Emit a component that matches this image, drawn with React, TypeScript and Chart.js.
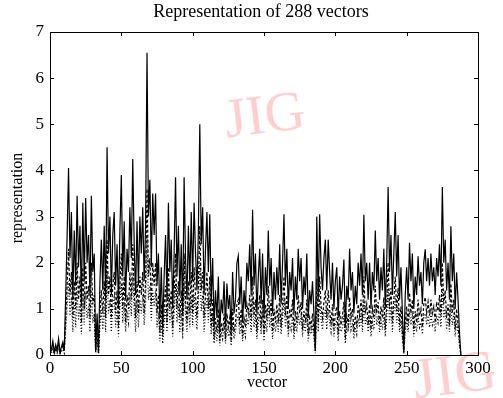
import React, { useEffect, useRef } from "react";
import { Chart, registerables } from "chart.js";
Chart.register(...registerables);

const chartTitle = "Representation of 288 vectors";
const xLabel = "vector";
const yLabel = "representation";
const xTicks = [0, 50, 100, 150, 200, 250, 300];
const yTicks = [0, 1, 2, 3, 4, 5, 6, 7];

// vectors 1..288
const solid = [
  0.12, 0.3, 0.05, 0.22, 0.1, 0.35, 0.05, 0.18, 0.28, 0.1, 1.3, 2.6,
  4.05, 2.1, 3.1, 1.2, 2.7, 1.5, 3.45, 1.9, 2.8, 1.1, 3.3, 1.6,
  3.4, 2.0, 2.6, 1.3, 3.45, 1.8, 2.2, 0.1, 0.9, 0.05, 1.6, 2.5,
  1.4, 2.8, 1.2, 4.5, 2.2, 3.0, 1.3, 2.6, 3.1, 1.5, 2.4, 1.0,
  2.7, 3.9, 1.7, 2.9, 1.2, 2.3, 1.8, 3.2, 2.1, 4.25, 2.4, 1.3,
  2.9, 1.5, 3.0, 2.2, 3.2, 1.6, 2.8, 6.55, 3.0, 3.8, 1.9, 3.5,
  2.6, 3.5, 1.5, 2.2, 0.8, 1.9, 0.6, 1.7, 2.6, 1.2, 3.3, 1.8,
  2.5, 1.0, 2.2, 3.85, 1.7, 2.8, 1.3, 2.4, 0.9, 3.85, 2.1, 1.2,
  2.8, 1.5, 3.1, 1.6, 3.3, 2.2, 1.4, 2.7, 5.0, 2.4, 3.2, 1.3,
  2.3, 3.1, 1.8, 3.05, 1.1, 2.1, 0.6, 1.4, 0.8, 1.7, 0.5, 1.2,
  0.9, 1.6, 0.6, 1.55, 1.0, 1.3, 0.5, 1.8, 0.9, 1.2, 2.0, 2.15,
  1.1, 1.7, 0.7, 1.4, 1.0, 2.0, 1.6, 2.4, 1.3, 3.15, 1.5, 2.2,
  0.9, 1.7, 2.3, 1.1, 2.2, 0.8, 1.9, 1.3, 2.7, 1.5, 2.1, 0.9,
  1.8, 1.2, 1.9, 1.3, 2.4, 1.1, 2.0, 3.05, 1.5, 2.3, 1.0, 1.8,
  1.4, 2.1, 0.9, 1.7, 1.2, 2.3, 1.6, 2.1, 1.0, 1.7, 1.3, 2.2,
  0.8, 1.4, 1.1, 1.6, 0.9, 0.1, 3.0, 1.2, 3.05, 1.9, 1.4, 2.1,
  2.5, 1.4, 2.5, 1.8, 1.2, 2.0, 1.0, 1.6, 1.9, 0.8, 1.7, 1.2,
  1.5, 2.07, 0.6, 1.5, 1.2, 2.3, 1.4, 1.8, 0.9, 1.5, 1.1, 2.0,
  1.5, 2.2, 1.3, 3.04, 1.6, 2.0, 1.2, 2.0, 1.0, 1.8, 1.4, 2.7,
  1.6, 2.1, 1.2, 1.9, 1.4, 2.3, 1.0, 2.0, 3.64, 1.8, 2.6, 1.3,
  2.2, 3.1, 1.7, 2.6, 1.2, 1.9, 0.9, 0.07, 1.3, 1.9, 1.2, 2.43,
  1.6, 2.2, 1.0, 1.7, 1.3, 2.14, 1.5, 1.8, 1.1, 2.0, 2.29, 1.6,
  2.1, 1.5, 2.2, 1.6, 1.9, 1.3, 2.1, 1.7, 2.4, 1.5, 3.64, 2.0,
  2.5, 1.4, 2.0, 1.2, 2.79, 1.6, 2.2, 1.0, 1.79, 1.2, 0.5, 0.0,
];

const dashed = [
  0.08, 0.2, 0.04, 0.15, 0.08, 0.25, 0.04, 0.12, 0.2, 0.08, 0.8, 1.5,
  2.3, 1.3, 1.8, 0.8, 1.6, 1.0, 2.0, 1.2, 1.7, 0.7, 1.9, 1.0,
  2.0, 1.2, 1.5, 0.8, 2.0, 1.1, 1.3, 0.07, 0.5, 0.03, 0.9, 1.4,
  0.9, 1.6, 0.8, 2.5, 1.3, 1.7, 0.8, 1.5, 1.8, 0.9, 1.4, 0.6,
  1.5, 2.2, 1.0, 1.7, 0.7, 1.3, 1.0, 1.8, 1.2, 2.4, 1.4, 0.8,
  1.6, 0.9, 1.7, 1.3, 1.8, 0.9, 1.6, 3.6, 1.7, 2.1, 1.1, 2.0,
  1.5, 2.0, 0.9, 1.3, 0.5, 1.1, 0.4, 1.0, 1.5, 0.7, 1.9, 1.0,
  1.4, 0.6, 1.3, 2.2, 1.0, 1.6, 0.8, 1.4, 0.5, 2.2, 1.2, 0.7,
  1.6, 0.9, 1.8, 0.9, 1.9, 1.3, 0.8, 1.5, 2.8, 1.4, 1.8, 0.8,
  1.3, 1.8, 1.0, 1.7, 0.6, 1.2, 0.35, 0.8, 0.5, 1.0, 0.3, 0.7,
  0.5, 0.9, 0.35, 0.9, 0.6, 0.8, 0.3, 1.0, 0.5, 0.7, 1.1, 1.2,
  0.65, 1.0, 0.4, 0.8, 0.6, 1.1, 0.9, 1.3, 0.75, 1.7, 0.85, 1.2,
  0.5, 1.0, 1.3, 0.6, 1.2, 0.45, 1.1, 0.75, 1.5, 0.85, 1.2, 0.5,
  1.0, 0.7, 1.1, 0.7, 1.3, 0.6, 1.1, 1.7, 0.85, 1.3, 0.55, 1.0,
  0.8, 1.2, 0.5, 0.95, 0.7, 1.3, 0.9, 1.15, 0.55, 0.95, 0.7, 1.2,
  0.45, 0.8, 0.6, 0.9, 0.5, 0.08, 1.65, 0.7, 1.7, 1.05, 0.8, 1.15,
  1.4, 0.8, 1.4, 1.0, 0.65, 1.1, 0.55, 0.9, 1.05, 0.45, 0.95, 0.65,
  0.85, 1.15, 0.35, 0.85, 0.65, 1.25, 0.8, 1.0, 0.5, 0.85, 0.6, 1.1,
  0.85, 1.2, 0.7, 1.7, 0.9, 1.1, 0.65, 1.1, 0.55, 1.0, 0.8, 1.5,
  0.9, 1.15, 0.65, 1.05, 0.8, 1.25, 0.55, 1.1, 2.0, 1.0, 1.45, 0.7,
  1.2, 1.7, 0.95, 1.45, 0.65, 1.05, 0.5, 0.05, 0.7, 1.05, 0.65, 1.35,
  0.9, 1.2, 0.55, 0.95, 0.7, 1.2, 0.85, 1.0, 0.6, 1.1, 1.25, 0.9,
  1.15, 0.85, 1.2, 0.9, 1.05, 0.7, 1.15, 0.95, 1.3, 0.85, 2.0, 1.1,
  1.4, 0.8, 1.1, 0.65, 1.55, 0.9, 1.2, 0.55, 1.0, 0.65, 0.3, 0.0,
];

const dotted = [
  0.05, 0.12, 0.02, 0.1, 0.04, 0.15, 0.02, 0.08, 0.12, 0.04, 0.55, 1.0,
  1.6, 0.85, 1.25, 0.5, 1.1, 0.6, 1.4, 0.75, 1.1, 0.45, 1.3, 0.65,
  1.35, 0.8, 1.05, 0.5, 1.4, 0.7, 0.9, 0.04, 0.35, 0.02, 0.65, 1.0,
  0.55, 1.1, 0.5, 1.8, 0.9, 1.2, 0.5, 1.05, 1.25, 0.6, 0.95, 0.4,
  1.1, 1.55, 0.7, 1.15, 0.5, 0.9, 0.7, 1.3, 0.85, 1.7, 0.95, 0.5,
  1.15, 0.6, 1.2, 0.9, 1.3, 0.65, 1.1, 2.6, 1.2, 1.5, 0.75, 1.4,
  1.05, 1.4, 0.6, 0.9, 0.3, 0.75, 0.25, 0.7, 1.05, 0.5, 1.3, 0.7,
  1.0, 0.4, 0.9, 1.55, 0.7, 1.1, 0.5, 0.95, 0.35, 1.55, 0.85, 0.5,
  1.1, 0.6, 1.25, 0.65, 1.3, 0.9, 0.55, 1.1, 2.0, 0.95, 1.3, 0.5,
  0.9, 1.25, 0.7, 1.2, 0.45, 0.85, 0.25, 0.55, 0.3, 0.7, 0.2, 0.5,
  0.35, 0.65, 0.25, 0.6, 0.4, 0.5, 0.2, 0.7, 0.35, 0.5, 0.8, 0.85,
  0.45, 0.7, 0.3, 0.55, 0.4, 0.8, 0.65, 0.95, 0.5, 1.25, 0.6, 0.9,
  0.35, 0.7, 0.9, 0.45, 0.9, 0.3, 0.75, 0.5, 1.1, 0.6, 0.85, 0.35,
  0.7, 0.5, 0.75, 0.5, 0.95, 0.45, 0.8, 1.2, 0.6, 0.9, 0.4, 0.7,
  0.55, 0.85, 0.35, 0.7, 0.5, 0.9, 0.65, 0.85, 0.4, 0.7, 0.5, 0.9,
  0.3, 0.55, 0.45, 0.65, 0.35, 0.04, 1.2, 0.5, 1.2, 0.75, 0.55, 0.85,
  1.0, 0.55, 1.0, 0.7, 0.5, 0.8, 0.4, 0.65, 0.75, 0.3, 0.7, 0.5,
  0.6, 0.85, 0.25, 0.6, 0.5, 0.9, 0.55, 0.7, 0.35, 0.6, 0.45, 0.8,
  0.6, 0.9, 0.5, 1.2, 0.65, 0.8, 0.5, 0.8, 0.4, 0.7, 0.55, 1.1,
  0.65, 0.85, 0.5, 0.75, 0.55, 0.9, 0.4, 0.8, 1.45, 0.7, 1.05, 0.5,
  0.9, 1.25, 0.7, 1.05, 0.5, 0.75, 0.35, 0.03, 0.5, 0.75, 0.5, 0.95,
  0.65, 0.9, 0.4, 0.7, 0.5, 0.85, 0.6, 0.7, 0.45, 0.8, 0.9, 0.65,
  0.85, 0.6, 0.9, 0.65, 0.75, 0.5, 0.85, 0.7, 0.95, 0.6, 1.45, 0.8,
  1.0, 0.55, 0.8, 0.5, 1.1, 0.65, 0.9, 0.4, 0.7, 0.5, 0.2, 0.0,
];

const SERIF = "'Liberation Serif', 'DejaVu Serif', serif";

const toPts = (arr: number[]) => arr.map((y, i) => ({ x: i + 1, y }));

const framePlugin = {
  id: "frame",
  beforeDatasetsDraw(chart: any) {
    const ctx = chart.ctx;
    ctx.save();
    ctx.fillStyle = "rgba(255, 160, 160, 0.5)";
    ctx.font = `56px ${SERIF}`;
    ctx.textAlign = "center";
    ctx.textBaseline = "middle";
    ctx.translate(265, 118);
    ctx.rotate(-0.12);
    ctx.fillText("JIG", 0, 0);
    ctx.restore();
    ctx.save();
    ctx.fillStyle = "rgba(255, 160, 160, 0.5)";
    ctx.font = `58px ${SERIF}`;
    ctx.textAlign = "center";
    ctx.textBaseline = "middle";
    ctx.translate(455, 378);
    ctx.rotate(-0.12);
    ctx.fillText("JIG", 0, 0);
    ctx.restore();
  },
  afterDraw(chart: any) {
    const ctx = chart.ctx;
    const a = chart.chartArea;
    const xs = chart.scales.x;
    const ys = chart.scales.y;
    ctx.save();
    ctx.strokeStyle = "#000";
    ctx.lineWidth = 1;
    ctx.strokeRect(a.left + 0.5, a.top + 0.5, a.right - a.left, a.bottom - a.top);
    ctx.beginPath();
    const tl = 4;
    xTicks.forEach((v) => {
      const px = Math.round(xs.getPixelForValue(v)) + 0.5;
      ctx.moveTo(px, a.bottom);
      ctx.lineTo(px, a.bottom - tl);
      ctx.moveTo(px, a.top);
      ctx.lineTo(px, a.top + tl);
    });
    yTicks.forEach((v) => {
      const py = Math.round(ys.getPixelForValue(v)) + 0.5;
      ctx.moveTo(a.left, py);
      ctx.lineTo(a.left + tl, py);
      ctx.moveTo(a.right, py);
      ctx.lineTo(a.right - tl, py);
    });
    ctx.stroke();

    ctx.fillStyle = "#000";
    ctx.textAlign = "center";
    ctx.textBaseline = "middle";
    ctx.font = `18px ${SERIF}`;
    ctx.fillText(chartTitle, 261, 12);
    ctx.font = `16px ${SERIF}`;
    ctx.fillText(xLabel, 267, 383);
    ctx.translate(18, 198);
    ctx.rotate(-Math.PI / 2);
    ctx.fillText(yLabel, 0, 0);
    ctx.restore();
  },
};

export default function App() {
  const ref = useRef<HTMLCanvasElement | null>(null);
  useEffect(() => {
    document.body.style.margin = "0";
    const canvas = ref.current!;
    const lineDs = (label: string, data: number[], dash: number[]) => ({
      label,
      data: toPts(data),
      borderColor: "#000",
      backgroundColor: "#000",
      borderWidth: 1.2,
      borderDash: dash,
      pointRadius: 0,
      tension: 0,
      fill: false,
    });
    const chart = new Chart(canvas, {
      type: "line",
      data: {
        datasets: [
          lineDs("dotted", dotted, [1, 2]),
          lineDs("dashed", dashed, [3, 2]),
          lineDs("solid", solid, []),
        ],
      },
      options: {
        animation: false,
        responsive: false,
        parsing: false as any,
        layout: { padding: { top: 32, left: 0, right: 25, bottom: 0 } },
        plugins: {
          legend: { display: false },
          title: { display: false },
          tooltip: { enabled: false },
        },
        scales: {
          x: {
            type: "linear",
            min: 0,
            max: 300,
            afterBuildTicks: (s: any) => {
              s.ticks = xTicks.map((v) => ({ value: v }));
            },
            afterFit: (s: any) => {
              s.height = 43;
            },
            ticks: {
              font: { family: SERIF, size: 17 },
              color: "#000",
              maxRotation: 0,
              autoSkip: false,
              padding: 3,
            },
            grid: { display: false, drawTicks: false },
            border: { display: false },
          },
          y: {
            type: "linear",
            min: 0,
            max: 7,
            afterBuildTicks: (s: any) => {
              s.ticks = yTicks.map((v) => ({ value: v }));
            },
            afterFit: (s: any) => {
              s.width = 50;
            },
            ticks: {
              font: { family: SERIF, size: 17 },
              color: "#000",
              autoSkip: false,
              padding: 6,
            },
            grid: { display: false, drawTicks: false },
            border: { display: false },
          },
        },
      },
      plugins: [framePlugin],
    });
    return () => chart.destroy();
  }, []);
  return (
    <div style={{ position: "fixed", left: 0, top: 0, width: 503, height: 398, background: "#fff" }}>
      <canvas ref={ref} width={503} height={398} style={{ display: "block" }} />
    </div>
  );
}
